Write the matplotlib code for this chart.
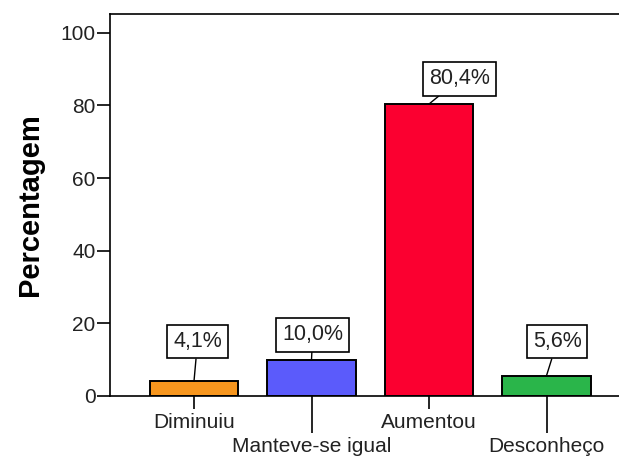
import matplotlib.pyplot as plt

categories = ["Diminuiu", "Manteve-se igual", "Aumentou", "Desconheço"]
percent = [4.1, 10.0, 80.4, 5.6]
labels = ["4,1%", "10,0%", "80,4%", "5,6%"]
colors = ["#F7961E", "#5B5BFB", "#FB0030", "#2AB54A"]

# where the value boxes sit, relative to the bar top (data units)
label_dx = [0.03, 0.01, 0.26, 0.09]
label_dy = [10.8, 6.8, 6.9, 9.3]

plt.rcParams['font.family'] = ['Liberation Sans', 'DejaVu Sans']

fig = plt.figure(figsize=(6.19, 4.57), dpi=100)
ax = fig.add_axes([0.1777, 0.1335, 0.8223, 0.8359])

x = list(range(len(categories)))
ax.bar(x, percent, width=0.75, color=colors, edgecolor="black", linewidth=1.4, zorder=2)

for i, v in enumerate(percent):
    ax.annotate(labels[i], xy=(i, v), xytext=(i + label_dx[i], v + label_dy[i]),
                ha="center", va="center", fontsize=15.5, color="#222222",
                bbox=dict(boxstyle="square,pad=0.28", fc="white", ec="black", lw=1.2),
                arrowprops=dict(arrowstyle="-", color="black", lw=1.0,
                                shrinkA=0, shrinkB=0))

ax.set_xlim(-0.715, 3.617)
ax.set_ylim(0, 105.2)

# staggered category labels: short ticks on even, long ticks on odd positions
ax.set_xticks(x[0::2], categories[0::2])
ax.set_xticks(x[1::2], categories[1::2], minor=True)
ax.tick_params(axis="x", which="major", length=9.4, width=1.2, pad=3,
               labelsize=15, labelcolor="#222222")
ax.tick_params(axis="x", which="minor", length=26.6, width=1.2, pad=3,
               labelsize=15, labelcolor="#222222")

ax.set_yticks([0, 20, 40, 60, 80, 100])
ax.tick_params(axis="y", length=9.4, width=1.2, pad=1, labelsize=15, labelcolor="#222222")

ax.set_ylabel("Percentagem", fontsize=21, fontweight="bold", labelpad=12)

for s in ["left", "top", "bottom"]:
    ax.spines[s].set_linewidth(1.2)
ax.spines["right"].set_visible(False)

fig.savefig("out.png", dpi=100)
